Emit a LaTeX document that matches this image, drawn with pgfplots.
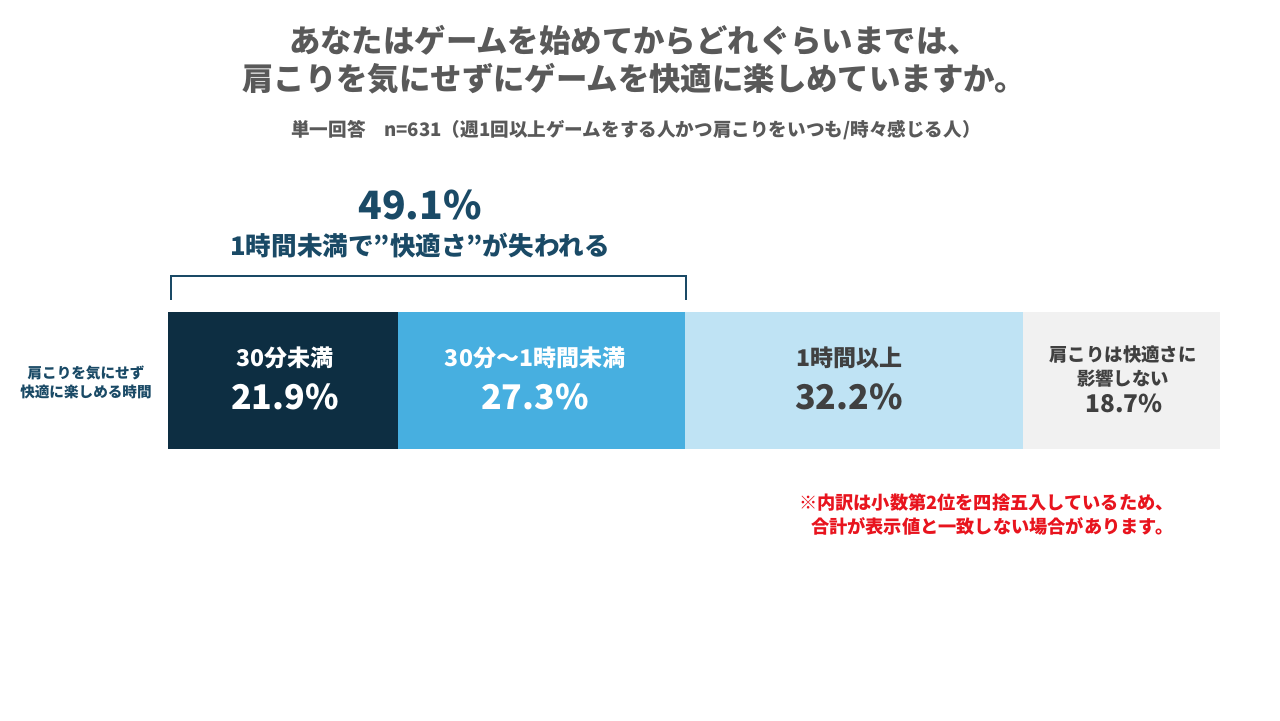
\documentclass[border=0pt]{standalone}
\usepackage{pgfplots}
\pgfplotsset{compat=1.18}
\usepackage{fontspec}
\setmainfont{Noto Sans CJK JP}
\definecolor{cA}{HTML}{0D2E42}
\definecolor{cB}{HTML}{47AFE0}
\definecolor{cC}{HTML}{BFE3F4}
\definecolor{cD}{HTML}{F1F1F1}
\definecolor{teal}{HTML}{1A4A66}
\definecolor{gtitle}{HTML}{595959}
\definecolor{gtext}{HTML}{404040}
\definecolor{rednote}{HTML}{E8141E}
\begin{document}
\begin{tikzpicture}
\path[fill=white] (0,0) rectangle (640pt,360pt);
% titles
\node[align=center, text=gtitle, font=\bfseries\fontsize{15.7}{19}\selectfont] at (317pt,330pt)
  {あなたはゲームを始めてからどれぐらいまでは、\\肩こりを気にせずにゲームを快適に楽しめていますか。};
\node[text=gtitle, font=\bfseries\fontsize{9.3}{11}\selectfont] at (318pt,295pt)
  {単一回答　n=631（週1回以上ゲームをする人かつ肩こりをいつも/時々感じる人）};
% y label
\node[align=center, text=teal, font=\bfseries\fontsize{7.3}{9.5}\selectfont] at (43pt,169pt)
  {肩こりを気にせず\\快適に楽しめる時間};
% highlight
\node[text=teal, font=\bfseries\fontsize{19.5}{23}\selectfont] at (210pt,257.5pt) {49.1\%};
\node[text=teal, font=\bfseries\fontsize{12.8}{16}\selectfont] at (210pt,237pt) {1時間未満で”快適さ”が失われる};
% note
\node[anchor=west, align=left, text=rednote, font=\bfseries\fontsize{9.1}{12}\selectfont] at (396pt,102.5pt)
  {※内訳は小数第2位を四捨五入しているため、\\\hspace{6pt}合計が表示値と一致しない場合があります。};
\begin{axis}[at={(84pt,135.5pt)}, anchor=south west, scale only axis,
  width=526pt, height=68.5pt, xbar stacked, bar width=68.5pt,
  xmin=0, xmax=100.1, ymin=-0.5, ymax=0.5, hide axis, clip=false]
\addplot[fill=cA, draw=none] coordinates {(21.9,0)};
\addplot[fill=cB, draw=none] coordinates {(27.3,0)};
\addplot[fill=cC, draw=none] coordinates {(32.2,0)};
\addplot[fill=cD, draw=none] coordinates {(18.7,0)};
\draw[teal, line width=1pt] (axis cs:0.3,0.59) -- (axis cs:0.3,0.763) -- (axis cs:49.3,0.763) -- (axis cs:49.3,0.59);
\end{axis}
% bar labels
\node[text=white, font=\bfseries\fontsize{11.5}{14}\selectfont] at (142.5pt,181pt) {30分未満};
\node[text=white, font=\bfseries\fontsize{17}{20}\selectfont] at (142.5pt,161.5pt) {21.9\%};
\node[text=white, font=\bfseries\fontsize{11.5}{14}\selectfont] at (267.5pt,181pt) {30分～1時間未満};
\node[text=white, font=\bfseries\fontsize{17}{20}\selectfont] at (267.5pt,161.5pt) {27.3\%};
\node[text=gtext, font=\bfseries\fontsize{11.5}{14}\selectfont] at (424.5pt,181pt) {1時間以上};
\node[text=gtext, font=\bfseries\fontsize{17}{20}\selectfont] at (424.5pt,161.5pt) {32.2\%};
\node[text=gtext, font=\bfseries\fontsize{9.2}{11}\selectfont] at (561.5pt,182.5pt) {肩こりは快適さに};
\node[text=gtext, font=\bfseries\fontsize{9.2}{11}\selectfont] at (561.5pt,171pt) {影響しない};
\node[text=gtext, font=\bfseries\fontsize{12.2}{15}\selectfont] at (562pt,158.5pt) {18.7\%};
\end{tikzpicture}
\end{document}
